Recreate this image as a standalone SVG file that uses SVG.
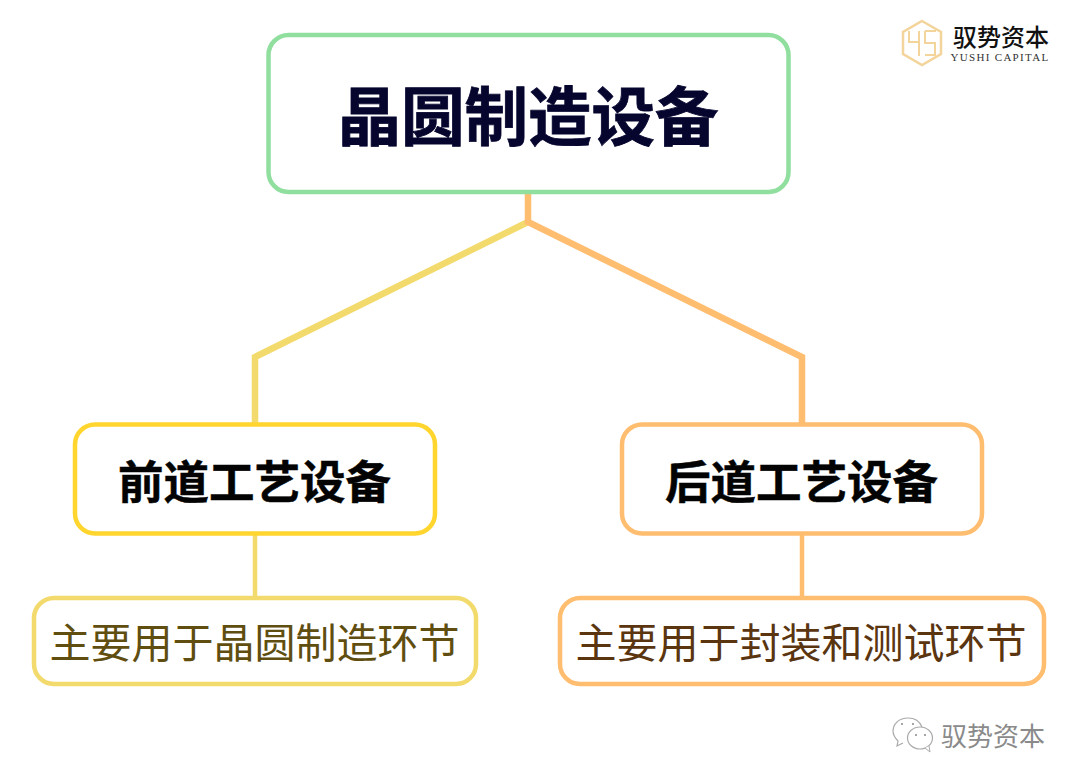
<svg xmlns="http://www.w3.org/2000/svg" width="1080" height="783" viewBox="0 0 1080 783">
<style>
text{font-family:"Noto Sans CJK SC","Liberation Sans",sans-serif;text-anchor:middle}
.box{fill:#fff;stroke-width:4.500}
.conn{fill:none;stroke-linejoin:miter}
.h{font-weight:700;fill:#030303;stroke:#030303;stroke-width:.5}
.s{font-size:41px}
</style>
<rect width="1080" height="783" fill="#fff"/>
<g id="connectors">
<path class="conn" d="M255 423V357L528 222" stroke="#f3da6d" stroke-width="6.500"/>
<path class="conn" d="M802 423V357L528 222V192" stroke="#ffbd70" stroke-width="6.500"/>
<path class="conn" d="M255 534V597" stroke="#f3da6d" stroke-width="4.500"/>
<path class="conn" d="M802 534V597" stroke="#ffbd70" stroke-width="4.500"/>
</g>
<g id="root">
<rect class="box" x="268.500" y="35" width="520" height="157" rx="20" stroke="#90df9e"/>
<text class="h" x="528" y="140" font-size="63.500" style="fill:#05052e;stroke:#05052e;stroke-width:.8">晶圆制造设备</text>
</g>
<g id="front">
<rect class="box" x="75" y="424.500" width="360" height="109" rx="20" stroke="#ffd52e"/>
<text class="h" x="254.500" y="499" font-size="45.500">前道工艺设备</text>
</g>
<g id="back">
<rect class="box" x="622" y="424.500" width="360" height="109" rx="20" stroke="#ffbd70"/>
<text class="h" x="801.500" y="499" font-size="45.500">后道工艺设备</text>
</g>
<g id="front-note">
<rect class="box" x="34" y="598" width="442" height="86" rx="20" stroke="#f3da6d"/>
<text class="s" x="254.500" y="658" fill="#5f4e10">主要用于晶圆制造环节</text>
</g>
<g id="back-note">
<rect class="box" x="560" y="598" width="484" height="86" rx="20" stroke="#ffbd70"/>
<text class="s" x="801" y="658" fill="#5a3510">主要用于封装和测试环节</text>
</g>
<g id="logo">
<path d="M922 21L941 32V54L922 65L903 54V32Z" fill="none" stroke="#f3d49a" stroke-width="2.500"/>
<path d="M909 31V42H919M919 31V56M925 31H936M925 31V43H935V55H925" fill="none" stroke="#f3d49a" stroke-width="2"/>
<text x="1001" y="46" font-size="24" fill="#111" font-weight="500">驭势资本</text>
<text x="1000" y="61" font-size="11" fill="#333" letter-spacing="1.300" style="font-family:'Liberation Serif',serif">YUSHI CAPITAL</text>
</g>
<g id="watermark">
<path d="M908 718C899 718 893 724 893 731C893 735 895 738 898 741L897 746L903 743" fill="#fff" stroke="#aaa" stroke-width="1.200"/>
<path d="M908 718C915 718 920 722 922 727" fill="none" stroke="#aaa" stroke-width="1.200"/>
<ellipse cx="920" cy="738" rx="12.500" ry="11" fill="#fff" stroke="#aaa" stroke-width="1.200"/>
<path d="M925 748L930 752L929 746" fill="#fff" stroke="#aaa" stroke-width="1"/>
<circle cx="902" cy="724" r="1" fill="#888"/><circle cx="913" cy="724" r="1" fill="#888"/>
<circle cx="916" cy="735" r="1" fill="#888"/><circle cx="925" cy="735" r="1" fill="#888"/>
<text x="993" y="746" font-size="26" fill="#8a8a8a">驭势资本</text>
</g>
</svg>
